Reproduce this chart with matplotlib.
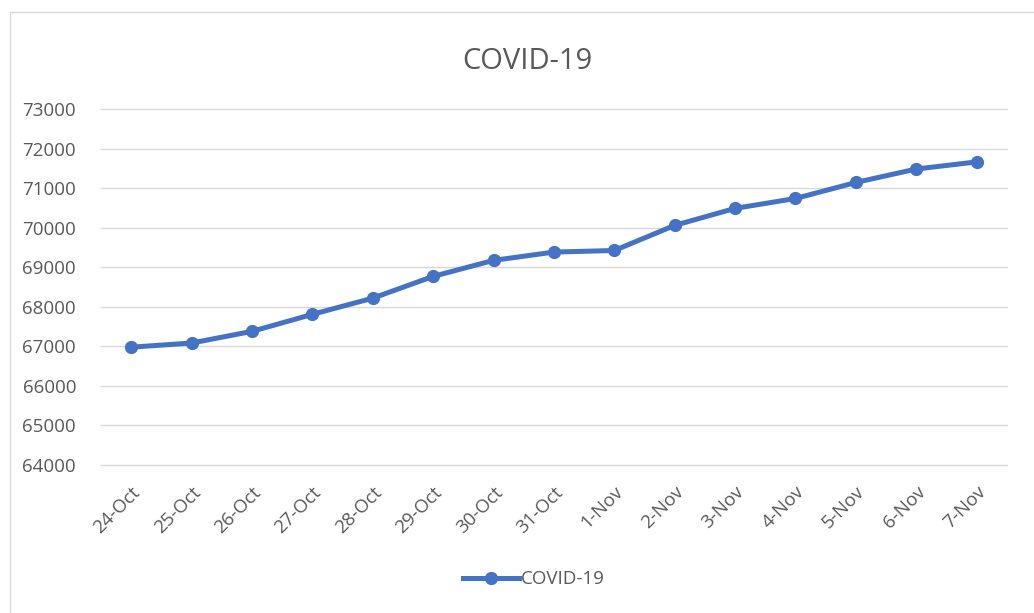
import matplotlib.pyplot as plt
from matplotlib.patches import Rectangle

# 数据
dates = ["24-Oct", "25-Oct", "26-Oct", "27-Oct", "28-Oct", "29-Oct", "30-Oct", "31-Oct",
         "1-Nov", "2-Nov", "3-Nov", "4-Nov", "5-Nov", "6-Nov", "7-Nov"]
cases = [66980, 67085, 67380, 67810, 68220, 68770, 69175, 69385,
         69425, 70060, 70490, 70740, 71145, 71485, 71665]
y_ticks = list(range(64000, 74000, 1000))

plt.rcParams['font.family'] = ['Open Sans', 'DejaVu Sans']
text_col = "#595959"
blue = "#4472C4"

fig = plt.figure(figsize=(10.34, 6.13), dpi=100)
ax = fig.add_axes([0.0977, 0.2414, 0.876, 0.5806])

x = range(len(dates))
ax.plot(x, cases, color=blue, linewidth=3.6, marker="o", markersize=8.5, label="COVID-19")

ax.set_xlim(-0.5, len(dates) - 0.5)
ax.set_ylim(64000, 73000)
ax.set_yticks(y_ticks)
ax.set_yticklabels([str(v) for v in y_ticks], color=text_col, fontsize=13.5)
ax.set_xticks(list(x))
ax.set_xticklabels(dates, rotation=45, ha="right", rotation_mode="anchor",
                   color=text_col, fontsize=13.5)
ax.tick_params(length=0)
ax.tick_params(axis="y", pad=18)
ax.tick_params(axis="x", pad=13)
ax.grid(axis="y", color="#D9D9D9", linewidth=1)
for gl in ax.get_ygridlines():
    gl.set_clip_on(False)
ax.set_axisbelow(True)
for s in ax.spines.values():
    s.set_visible(False)

fig.text(0.51, 0.9, "COVID-19", ha="center", va="center", fontsize=21, color=text_col)

leg = fig.legend(loc="center", bbox_to_anchor=(0.516, 0.055), frameon=False,
                 fontsize=13.5, handlelength=3.0, handletextpad=0.1)
for t in leg.get_texts():
    t.set_color(text_col)

# 外框
fig.patches.append(Rectangle((10 / 1034, -0.05), 1.1, 1 - 12 / 613 + 0.05,
                             transform=fig.transFigure, fill=False,
                             edgecolor="#D9D9D9", linewidth=1))

fig.savefig("out.png", dpi=100)
